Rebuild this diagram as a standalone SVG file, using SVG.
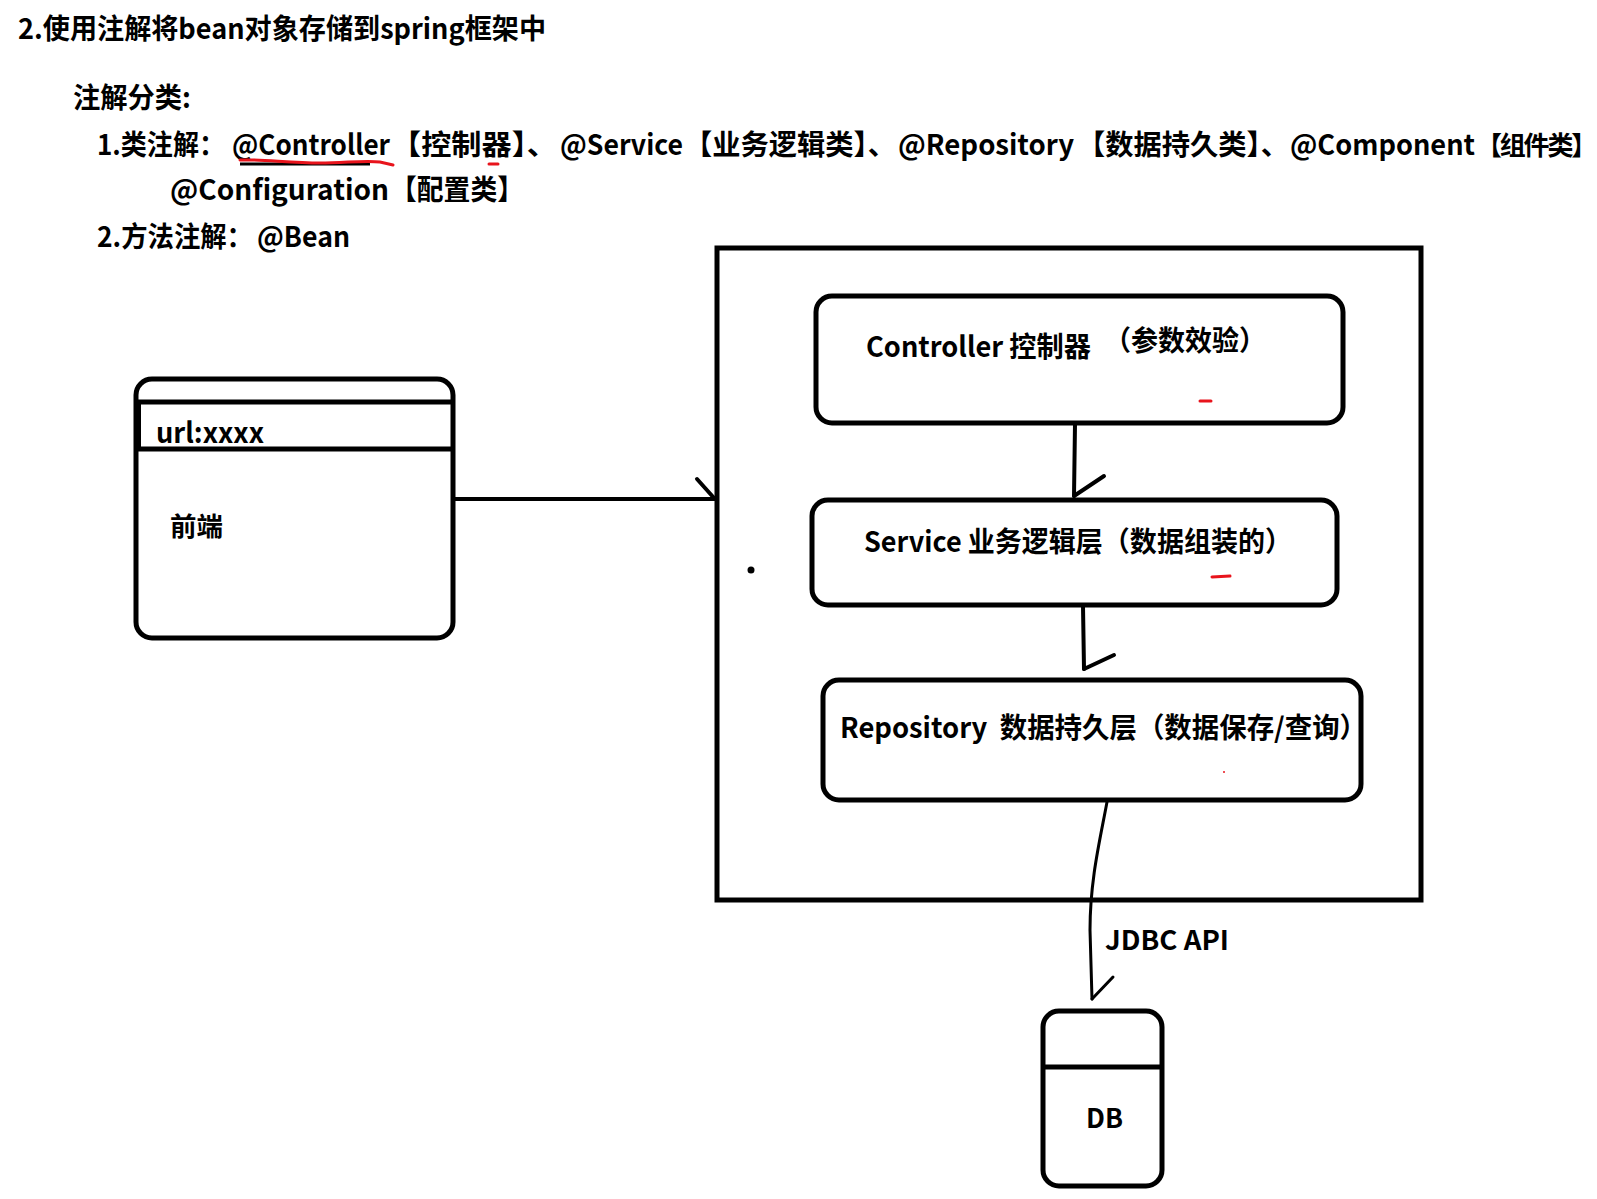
<svg xmlns="http://www.w3.org/2000/svg" width="1597" height="1199" viewBox="0 0 1597 1199">
<style>
  text { font-family: "Noto Sans CJK SC", "Microsoft YaHei", "Liberation Sans", sans-serif; font-weight: bold; fill: #000; }
  .h { font-size: 28px; }
  .t { font-size: 28px; }
  .lbl { font-size: 28px; }
  .box { fill: #fff; stroke: #000; stroke-width: 5; }
  .ln { fill: none; stroke: #000; stroke-width: 4; stroke-linecap: round; stroke-linejoin: round; }
  .red { fill: none; stroke: #e8141c; stroke-width: 3; stroke-linecap: round; }
</style>
<rect x="0" y="0" width="1597" height="1199" fill="#fff"/>

<g id="heading">
  <text class="h" x="18" y="39" textLength="528" lengthAdjust="spacingAndGlyphs">2.使用注解将bean对象存储到spring框架中</text>
  <text class="t" x="73" y="108" textLength="118" lengthAdjust="spacingAndGlyphs">注解分类:</text>
  <text class="t" y="155">
    <tspan x="97" textLength="128" lengthAdjust="spacingAndGlyphs">1.类注解：</tspan>
    <tspan x="232" textLength="158" lengthAdjust="spacingAndGlyphs">@Controller</tspan>
    <tspan x="391" textLength="166" lengthAdjust="spacingAndGlyphs">【控制器】、</tspan>
    <tspan x="560" textLength="123" lengthAdjust="spacingAndGlyphs">@Service</tspan>
    <tspan x="684" textLength="212" lengthAdjust="spacingAndGlyphs">【业务逻辑类】、</tspan>
    <tspan x="898" textLength="176" lengthAdjust="spacingAndGlyphs">@Repository</tspan>
    <tspan x="1077" textLength="212" lengthAdjust="spacingAndGlyphs">【数据持久类】、</tspan>
    <tspan x="1290" textLength="185" lengthAdjust="spacingAndGlyphs">@Component</tspan>
  </text>
  <text x="1476" y="155" style="font-size:26px;letter-spacing:-2.2px">【组件类】</text>
  <text class="t" y="200">
    <tspan x="170" textLength="219" lengthAdjust="spacingAndGlyphs">@Configuration</tspan>
    <tspan x="390" textLength="134" lengthAdjust="spacingAndGlyphs">【配置类】</tspan>
  </text>
  <text class="t" y="247">
    <tspan x="97" textLength="156" lengthAdjust="spacingAndGlyphs">2.方法注解：</tspan>
    <tspan x="257" textLength="93" lengthAdjust="spacingAndGlyphs">@Bean</tspan>
  </text>
  <path d="M240,164 L370,164" stroke="#000" stroke-width="3" fill="none"/>
  <path class="red" d="M240,160 C260,159 290,163 320,163 C345,163 365,160 380,162 L393,165"/>
  <path class="red" d="M489,164 L498,164"/>
</g>

<g id="frontend">
  <rect class="box" x="136" y="379" width="317" height="259" rx="16"/>
  <line x1="136" y1="402" x2="453" y2="402" stroke="#000" stroke-width="5"/>
  <line x1="136" y1="449" x2="453" y2="449" stroke="#000" stroke-width="5"/>
  <rect x="136" y="402" width="5" height="47" fill="#000"/>
  <text x="156" y="443" font-size="28" textLength="108" lengthAdjust="spacingAndGlyphs">url:xxxx</text>
  <text x="170" y="536" font-size="26" textLength="53" lengthAdjust="spacingAndGlyphs">前端</text>
</g>

<g id="spring-container">
  <rect x="717" y="248" width="704" height="652" fill="none" stroke="#000" stroke-width="5"/>
  <circle cx="751" cy="570" r="3.5" fill="#000"/>
</g>

<g id="controller">
  <rect class="box" x="816" y="296" width="527" height="127" rx="16"/>
  <text class="lbl" x="866" y="357" textLength="225" lengthAdjust="spacingAndGlyphs">Controller 控制器</text>
  <text class="lbl" x="1104" y="351" textLength="162" lengthAdjust="spacingAndGlyphs">（参数效验）</text>
  <path class="red" d="M1200,401 L1211,401"/>
</g>

<g id="service">
  <rect class="box" x="812" y="500" width="525" height="105" rx="16"/>
  <text class="lbl" x="864" y="552" textLength="428" lengthAdjust="spacingAndGlyphs">Service 业务逻辑层（数据组装的）</text>
  <path class="red" d="M1212,577 L1230,576"/>
</g>

<g id="repository">
  <rect class="box" x="823" y="680" width="538" height="120" rx="16"/>
  <text class="lbl" x="840" y="738" xml:space="preserve" textLength="527" lengthAdjust="spacingAndGlyphs">Repository  数据持久层（数据保存/查询）</text>
  <circle cx="1224" cy="772" r="1" fill="#e8141c"/>
</g>

<g id="db">
  <rect class="box" x="1043" y="1011" width="119" height="175" rx="16"/>
  <line x1="1043" y1="1067" x2="1162" y2="1067" stroke="#000" stroke-width="5"/>
  <text x="1086" y="1128" font-size="27" textLength="37" lengthAdjust="spacingAndGlyphs">DB</text>
</g>

<g id="connectors">
  <path class="ln" d="M453,499 L716,499"/>
  <path class="ln" d="M697,479 L714,498"/>
  <path class="ln" d="M1075,424 L1074,496"/>
  <path class="ln" d="M1104,476 L1074,496"/>
  <path class="ln" d="M1083,606 L1084,669"/>
  <path class="ln" d="M1084,669 L1114,655"/>
  <path class="ln" style="stroke-width:3" d="M1107,802 C1100,840 1090,880 1090,930 L1092,999"/>
  <path class="ln" style="stroke-width:3" d="M1113,977 L1092,999"/>
  <text x="1105" y="950" font-size="27" textLength="124" lengthAdjust="spacingAndGlyphs">JDBC API</text>
</g>
</svg>
